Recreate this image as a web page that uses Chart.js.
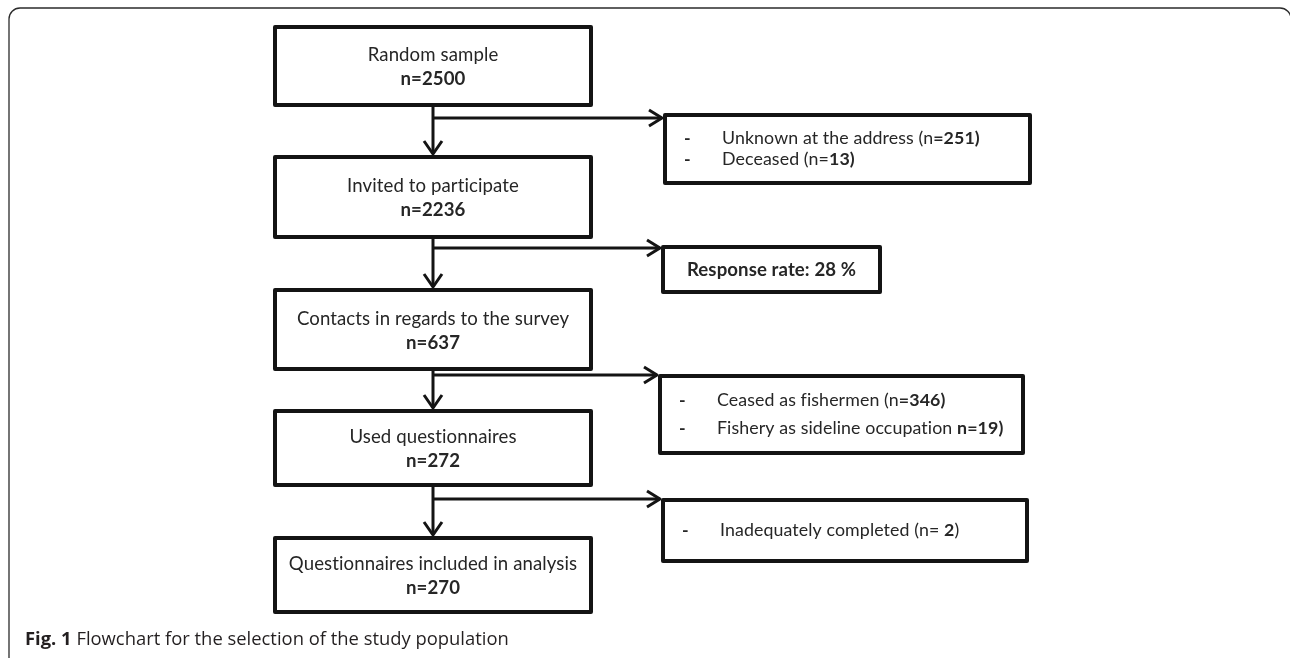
<!DOCTYPE html>
<html>
<head>
<meta charset="utf-8">
<title>Flowchart for the selection of the study population</title>
<script src="https://cdn.jsdelivr.net/npm/chart.js@4.4.1/dist/chart.umd.min.js"></script>
<style>
  html, body { margin: 0; padding: 0; background: #fff; }
  #wrap { width: 1290px; height: 658px; position: relative; }
</style>
</head>
<body>
<div id="wrap"><canvas id="flow" width="1290" height="658"></canvas></div>
<script>
// Flow stages (main column)
const stageLabels = [
  'Random sample',
  'Invited to participate',
  'Contacts in regards to the survey',
  'Used questionnaires',
  'Questionnaires included in analysis'
];
const stageCounts = [2500, 2236, 637, 272, 270];

// Exclusions branching off after each stage ('*' toggles bold, {n} is the count)
const exclusionTemplates = [
  ['Unknown at the address (n*={n})*', 'Deceased (n=*{n})*'],
  ['*Response rate: {n} %*'],
  ['Ceased as fishermen (n*={n})*', 'Fishery as sideline occupation *n={n})*'],
  ['Inadequately completed (n= *{n}*)']
];
const exclusionCounts = [[251, 13], [28], [346, 19], [2]];
const exclusionBullets = [true, false, true, true];

const captionBold = 'Fig. 1';
const captionText = ' Flowchart for the selection of the study population';

// Layout (page coordinates, mapped through the chart scales)
const mainBox = { left: 275, right: 591 };
const mainRows = [[27, 105], [157, 237], [290, 369], [411, 485], [538, 612]];
const sideBoxes = [
  { left: 665, right: 1030, top: 115, bottom: 183, branchY: 118 },
  { left: 663, right: 880, top: 247, bottom: 292, branchY: 248 },
  { left: 660, right: 1023, top: 376, bottom: 453, branchY: 375 },
  { left: 663, right: 1027, top: 500, bottom: 561, branchY: 499 }
];
const INK = '#141414';
const TEXT = '#262626';
const BOX_FONT = '"Lato", "Open Sans", sans-serif';
const MAIN_SIZE = 18.6;
const SIDE_SIZE = 17.8;

function richSegments(template, n) {
  const s = template.replace('{n}', String(n));
  return s.split('*').map((t, i) => ({ text: t, bold: i % 2 === 1 })).filter(p => p.text);
}

function drawRich(ctx, segs, x, y, size, align) {
  const font = b => (b ? 'bold ' : '') + size + 'px ' + BOX_FONT;
  let total = 0;
  segs.forEach(p => { ctx.font = font(p.bold); total += ctx.measureText(p.text).width; });
  let cx = align === 'center' ? x - total / 2 : x;
  ctx.textAlign = 'left';
  ctx.textBaseline = 'middle';
  segs.forEach(p => {
    ctx.font = font(p.bold);
    ctx.fillText(p.text, cx, y);
    cx += ctx.measureText(p.text).width;
  });
}

const flowPlugin = {
  id: 'flow',
  afterDraw(chart) {
    const ctx = chart.ctx;
    const X = v => chart.scales.x.getPixelForValue(v);
    const Y = v => chart.scales.y.getPixelForValue(v);
    const midX = X((mainBox.left + mainBox.right) / 2);

    ctx.save();

    // outer figure frame
    ctx.strokeStyle = '#2b2b2b';
    ctx.lineWidth = 1.3;
    ctx.beginPath();
    ctx.roundRect(X(9), Y(8), X(1291) - X(9), Y(672) - Y(8), 11);
    ctx.stroke();

    ctx.strokeStyle = INK;
    ctx.fillStyle = INK;
    ctx.lineCap = 'butt';
    ctx.lineJoin = 'round';
    // a little tracking keeps Lato from forming ti / fi ligatures
    ctx.letterSpacing = '0.1px';

    // main boxes
    stageLabels.forEach((label, i) => {
      const [t, b] = mainRows[i];
      ctx.lineWidth = 4;
      ctx.strokeRect(X(mainBox.left), Y(t), X(mainBox.right) - X(mainBox.left), Y(b) - Y(t));
      const cy = (Y(t) + Y(b)) / 2;
      ctx.font = MAIN_SIZE + 'px ' + BOX_FONT;
      ctx.textAlign = 'center';
      ctx.textBaseline = 'middle';
      ctx.fillStyle = TEXT;
      ctx.fillText(label, midX, cy - 11);
      ctx.font = 'bold ' + MAIN_SIZE + 'px ' + BOX_FONT;
      ctx.fillText('n=' + stageCounts[i], midX, cy + 13);
      ctx.fillStyle = INK;
    });

    // vertical arrows between stages
    ctx.lineWidth = 3;
    for (let i = 0; i < mainRows.length - 1; i++) {
      const y0 = Y(mainRows[i][1]) + 2;
      const y1 = Y(mainRows[i + 1][0]) - 3;
      ctx.beginPath();
      ctx.moveTo(midX, y0);
      ctx.lineTo(midX, y1);
      ctx.stroke();
      ctx.beginPath();
      ctx.moveTo(midX - 9, y1 - 13);
      ctx.lineTo(midX, y1);
      ctx.lineTo(midX + 9, y1 - 13);
      ctx.stroke();
    }

    // side branches and exclusion boxes
    sideBoxes.forEach((sb, i) => {
      const by = Y(sb.branchY);
      const tipX = X(sb.left) - 3;
      ctx.lineWidth = 3;
      ctx.beginPath();
      ctx.moveTo(midX, by);
      ctx.lineTo(tipX, by);
      ctx.stroke();
      ctx.beginPath();
      ctx.moveTo(tipX - 13, by - 8);
      ctx.lineTo(tipX, by);
      ctx.lineTo(tipX - 13, by + 8);
      ctx.stroke();

      ctx.lineWidth = 4;
      ctx.strokeRect(X(sb.left), Y(sb.top), X(sb.right) - X(sb.left), Y(sb.bottom) - Y(sb.top));

      const lines = exclusionTemplates[i];
      const cy = (Y(sb.top) + Y(sb.bottom)) / 2;
      const gap = i === 2 ? 28 : 21;
      ctx.fillStyle = TEXT;
      lines.forEach((tpl, j) => {
        const ly = cy + (j - (lines.length - 1) / 2) * gap;
        const segs = richSegments(tpl, exclusionCounts[i][j]);
        if (exclusionBullets[i]) {
          drawRich(ctx, [{ text: '-', bold: true }], X(sb.left) + 19, ly, SIDE_SIZE, 'left');
          drawRich(ctx, segs, X(sb.left) + 57, ly, SIDE_SIZE, 'left');
        } else {
          drawRich(ctx, segs, (X(sb.left) + X(sb.right)) / 2, ly, MAIN_SIZE, 'center');
        }
      });
      ctx.fillStyle = INK;
    });

    // caption
    ctx.letterSpacing = '0px';
    ctx.textAlign = 'left';
    ctx.textBaseline = 'middle';
    ctx.fillStyle = '#231f20';
    ctx.font = 'bold 18.4px "Open Sans", sans-serif';
    ctx.fillText(captionBold, X(25), Y(640));
    const bw = ctx.measureText(captionBold).width;
    ctx.font = '18.4px "Open Sans", sans-serif';
    ctx.fillText(captionText, X(25) + bw, Y(640));

    ctx.restore();
  }
};

new Chart(document.getElementById('flow'), {
  type: 'scatter',
  data: { datasets: [{ data: [], pointRadius: 0 }] },
  options: {
    responsive: false,
    animation: false,
    events: [],
    layout: { padding: 0 },
    scales: {
      x: { type: 'linear', min: 0, max: 1290, display: false },
      y: { type: 'linear', min: 0, max: 658, reverse: true, display: false }
    },
    plugins: { legend: { display: false }, tooltip: { enabled: false } }
  },
  plugins: [flowPlugin]
});
</script>
</body>
</html>
